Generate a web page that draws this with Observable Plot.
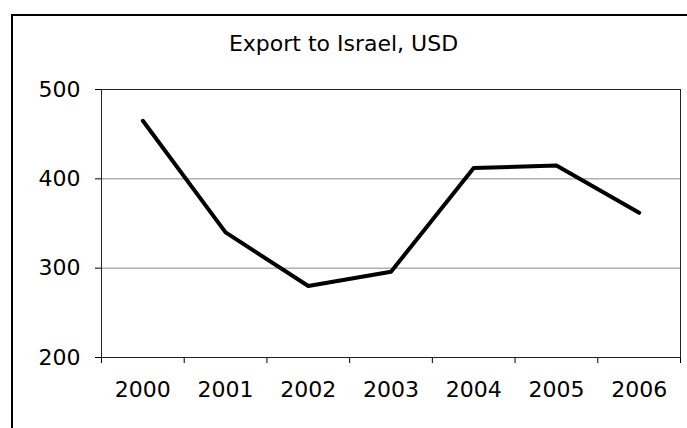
<!DOCTYPE html>
<html><head><meta charset="utf-8">
<script src="https://cdn.jsdelivr.net/npm/d3@7"></script>
<script src="https://cdn.jsdelivr.net/npm/@observablehq/plot@0.6"></script>
<style>
html,body{margin:0;padding:0;background:#fff;}
#wrap{position:relative;width:687px;height:428px;overflow:hidden;background:#fff;}
#chart{position:absolute;left:0;top:0;}
#frame{position:absolute;left:11px;top:14px;width:720px;height:460px;border-top:2px solid #000;border-left:2px solid #000;}
#title{position:absolute;left:0;width:687px;top:31px;text-align:center;font-family:"DejaVu Sans";font-size:22px;line-height:26px;color:#000;}
</style></head><body>
<div id="wrap"><div id="chart"></div><div id="frame"></div><div id="title"></div></div>
<script>
const title = "Export to Israel, USD";
const years = [2000, 2001, 2002, 2003, 2004, 2005, 2006];
const values = [465, 340, 280, 296, 412, 415, 362];
const yTicks = [200, 300, 400, 500];

const data = years.map((y, i) => ({year: y, value: values[i]}));
const edges = years.map(y => y - 0.5).concat([years[years.length - 1] + 0.5]);

document.getElementById("title").textContent = title;

const chart = Plot.plot({
  width: 687,
  height: 428,
  marginLeft: 101,
  marginRight: 7,
  marginTop: 89,
  marginBottom: 71,
  style: {fontFamily: "DejaVu Sans", fontSize: "22px", color: "#000", background: "transparent"},
  x: {domain: [edges[0], edges[edges.length - 1]], ticks: edges, tickFormat: () => "", tickSize: 6, label: null},
  y: {domain: [yTicks[0], yTicks[yTicks.length - 1]], ticks: yTicks, tickSize: 6, tickPadding: 15, label: null},
  marks: [
    Plot.ruleY(yTicks, {stroke: "#888", strokeWidth: 1}),
    Plot.frame({stroke: "#222", strokeWidth: 1}),
    Plot.line(data, {x: "year", y: "value", stroke: "#000", strokeWidth: 4}),
    Plot.text(years, {x: d => d, frameAnchor: "bottom", dy: 39, text: d => String(d), fontSize: 22, fill: "#000"})
  ]
});
document.getElementById("chart").appendChild(chart);
</script>
</body></html>
